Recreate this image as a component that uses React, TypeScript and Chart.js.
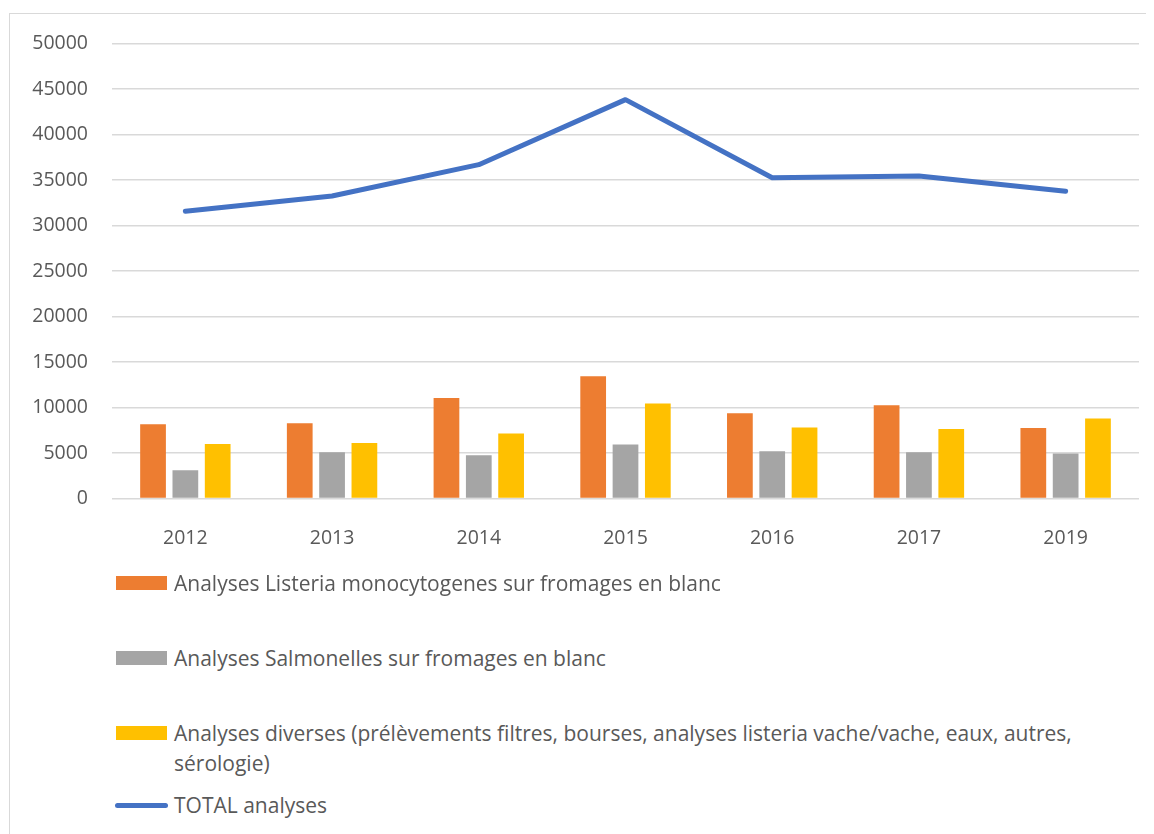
import React, { useEffect, useRef } from "react";
import { Chart, registerables } from "chart.js";

Chart.register(...registerables);

const years = ["2012", "2013", "2014", "2015", "2016", "2017", "2019"];
const listeria = [8160, 8270, 11050, 13440, 9370, 10250, 7760];
const salmonelles = [3100, 5090, 4760, 5930, 5200, 5090, 4950];
const diverses = [6000, 6110, 7140, 10440, 7800, 7650, 8790];
const total = [31570, 33250, 36700, 43850, 35270, 35450, 33770];

const labelListeria = "Analyses Listeria monocytogenes sur fromages en blanc";
const labelSalmonelles = "Analyses Salmonelles sur fromages en blanc";
const labelDiverses1 = "Analyses diverses (prélèvements filtres, bourses, analyses listeria vache/vache, eaux, autres,";
const labelDiverses2 = "sérologie)";
const labelTotal = "TOTAL analyses";

const ORANGE = "#ED7D31";
const GRAY = "#A5A5A5";
const YELLOW = "#FFC000";
const BLUE = "#4472C4";
const TEXT = "#595959";
const GRID = "#D9D9D9";
const FONT = "'Open Sans', sans-serif";

export default function App() {
  const ref = useRef<HTMLCanvasElement | null>(null);

  useEffect(() => {
    if (!ref.current) return;
    const chart = new Chart(ref.current, {
      type: "bar",
      data: {
        labels: years,
        datasets: [
          {
            type: "line",
            label: labelTotal,
            data: total,
            borderColor: BLUE,
            backgroundColor: BLUE,
            borderWidth: 5,
            pointRadius: 0,
            tension: 0,
            borderCapStyle: "round",
            borderJoinStyle: "round",
            order: 0,
          } as any,
          {
            label: labelListeria,
            data: listeria,
            backgroundColor: ORANGE,
            categoryPercentage: 0.661,
            barPercentage: 0.796,
            order: 1,
          },
          {
            label: labelSalmonelles,
            data: salmonelles,
            backgroundColor: GRAY,
            categoryPercentage: 0.661,
            barPercentage: 0.796,
            order: 1,
          },
          {
            label: labelDiverses1 + " " + labelDiverses2,
            data: diverses,
            backgroundColor: YELLOW,
            categoryPercentage: 0.661,
            barPercentage: 0.796,
            order: 1,
          },
        ],
      },
      options: {
        animation: false,
        responsive: false,
        maintainAspectRatio: false,
        layout: { padding: { left: 0, right: 15, top: 0, bottom: 0 } },
        plugins: {
          legend: { display: false },
          tooltip: { enabled: false },
        },
        scales: {
          x: {
            grid: { display: false },
            border: { display: false },
            ticks: {
              color: TEXT,
              font: { family: FONT, size: 19.5 },
              padding: 20,
            },
            afterFit: (s: any) => {
              s.height = 75.5;
            },
          },
          y: {
            min: 0,
            max: 50000,
            ticks: {
              stepSize: 5000,
              color: TEXT,
              font: { family: FONT, size: 19.5 },
              padding: 24,
              callback: (v: any) => String(v),
            },
            grid: { color: GRID, lineWidth: 1.5, drawTicks: false },
            border: { display: false },
            afterFit: (s: any) => {
              s.width = 102;
            },
          },
        },
      },
    });
    return () => chart.destroy();
  }, []);

  const textStyle: React.CSSProperties = {
    position: "absolute",
    left: 164,
    fontFamily: FONT,
    fontSize: 21,
    lineHeight: "30px",
    color: TEXT,
    whiteSpace: "nowrap",
  };
  const boxStyle = (color: string, top: number): React.CSSProperties => ({
    position: "absolute",
    left: 106,
    top,
    width: 51,
    height: 14,
    background: color,
  });

  return (
    <div
      style={{
        position: "relative",
        marginTop: 5,
        marginLeft: 1,
        width: 1145,
        height: 830,
        borderTop: `1.5px solid ${GRID}`,
        borderLeft: `1.5px solid ${GRID}`,
        boxSizing: "border-box",
        background: "#fff",
      }}
    >
      <canvas
        ref={ref}
        width={1144}
        height={566}
        style={{ position: "absolute", left: 0, top: -6, width: 1144, height: 566 }}
      />
      <div style={boxStyle(ORANGE, 562)} />
      <div style={{ ...textStyle, top: 554 }}>{labelListeria}</div>
      <div style={boxStyle(GRAY, 637)} />
      <div style={{ ...textStyle, top: 629 }}>{labelSalmonelles}</div>
      <div style={boxStyle(YELLOW, 712)} />
      <div style={{ ...textStyle, top: 704 }}>
        {labelDiverses1}
        <br />
        {labelDiverses2}
      </div>
      <div
        style={{
          position: "absolute",
          left: 105,
          top: 788.5,
          width: 53,
          height: 5,
          borderRadius: 3,
          background: BLUE,
        }}
      />
      <div style={{ ...textStyle, top: 776 }}>{labelTotal}</div>
    </div>
  );
}
